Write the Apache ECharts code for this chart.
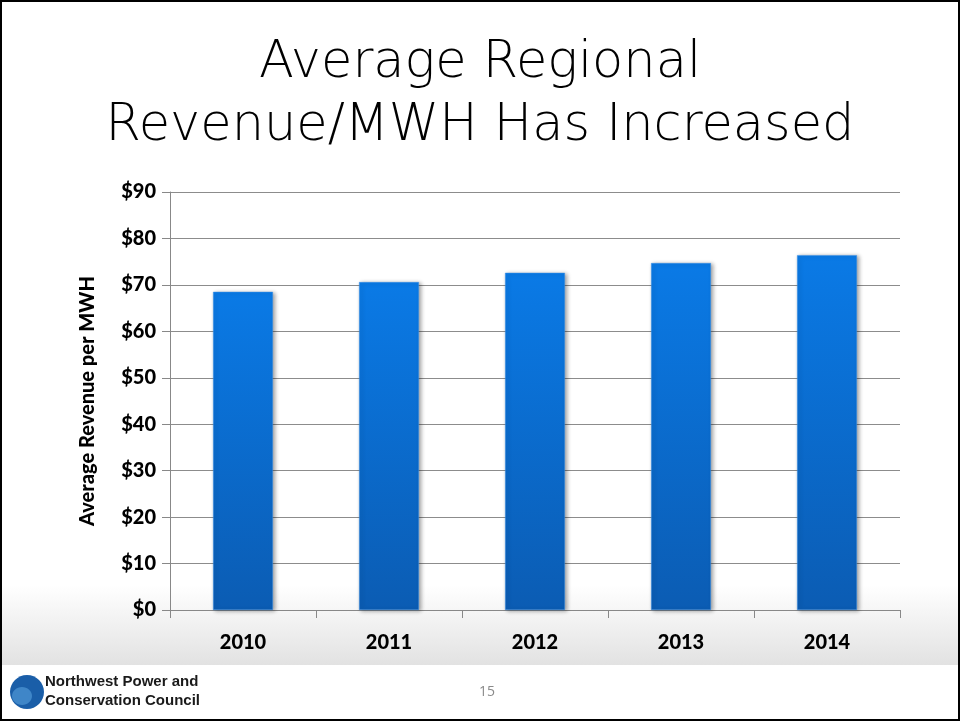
<!DOCTYPE html>
<html><head><meta charset="utf-8">
<script src="https://cdn.jsdelivr.net/npm/echarts@6/dist/echarts.min.js"></script>
<style>html,body{margin:0;padding:0;background:#fff}#c{width:960px;height:721px}</style>
</head><body><div id="c"></div>
<script>
const categories = ['2010','2011','2012','2013','2014'];
const revenue = [68.5, 70.6, 72.6, 74.7, 76.4];
const yTicks = [0,10,20,30,40,50,60,70,80,90];

const chart = echarts.init(document.getElementById('c'), null, {renderer:'canvas'});
const lbl = {fontFamily:'Lato', fontWeight:900, fontSize:20, color:'#000'};
chart.setOption({
  animation:false,
  backgroundColor:'#fff',
  graphic:[
    {type:'rect', z:-10, shape:{x:0,y:585,width:960,height:80},
     style:{fill:new echarts.graphic.LinearGradient(0,0,0,1,[{offset:0,color:'#ffffff'},{offset:1,color:'#e2e2e2'}])}},
    {type:'rect', z:100, shape:{x:1,y:1,width:958,height:719}, style:{fill:'none', stroke:'#000', lineWidth:2}},
    {type:'text', left:'center', top:38, style:{text:'Average Regional', font:'200 51px "DejaVu Sans"', fill:'#000', textAlign:'center'}},
    {type:'text', left:'center', top:101, style:{text:'Revenue/MWH Has Increased', font:'200 51px "DejaVu Sans"', fill:'#000', textAlign:'center'}},
    {type:'ellipse', shape:{cx:27,cy:692,rx:17,ry:17}, style:{fill:'#1a5ea8'}},
    {type:'ellipse', shape:{cx:22,cy:696,rx:10,ry:9}, style:{fill:'#3f86c8'}},
    {type:'text', left:45, top:674, style:{text:'Northwest Power and', font:'bold 15px "Liberation Sans Narrow", "Liberation Sans"', fill:'#1a1a1a'}},
    {type:'text', left:45, top:693, style:{text:'Conservation Council', font:'bold 15px "Liberation Sans Narrow", "Liberation Sans"', fill:'#1a1a1a'}},
    {type:'text', left:479, top:685, style:{text:'15', font:'14px "Open Sans"', fill:'#8a8a8a'}}
  ],
  grid:{left:170, right:60, top:192, bottom:111, containLabel:false},
  xAxis:{type:'category', data:categories,
    axisLine:{lineStyle:{color:'#888', width:1}},
    axisTick:{show:true, length:8, lineStyle:{color:'#888'}},
    axisLabel:Object.assign({margin:23}, lbl)},
  yAxis:{type:'value', min:0, max:90, interval:10,
    name:'Average Revenue per MWH', nameLocation:'middle', nameGap:72, nameRotate:90,
    nameTextStyle:{fontFamily:'Lato', fontWeight:900, fontSize:20, color:'#000'},
    axisLine:{show:true, lineStyle:{color:'#888'}},
    axisTick:{show:true, length:8, lineStyle:{color:'#888'}},
    splitLine:{lineStyle:{color:'#8c8c8c', width:1}},
    axisLabel:Object.assign({margin:14, formatter:v=>'$'+v}, lbl)},
  series:[{type:'bar', data:revenue, barWidth:'41%',
    itemStyle:{color:new echarts.graphic.LinearGradient(0,0,0,1,[{offset:0,color:'#0a7ae6'},{offset:1,color:'#0b5cb3'}]),
      borderColor:'#3d93e8', borderWidth:0.5,
      shadowColor:'rgba(0,0,0,0.35)', shadowBlur:4, shadowOffsetX:2, shadowOffsetY:1}}]
});
</script></body></html>
